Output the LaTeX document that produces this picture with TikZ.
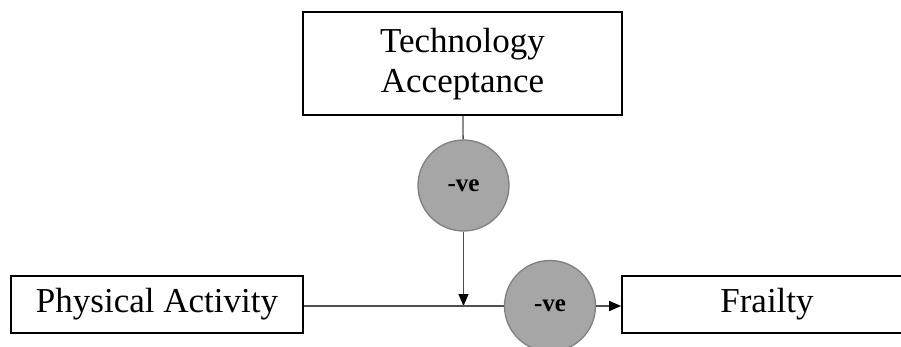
\documentclass[tikz,border=0pt]{standalone}
\usepackage{fontspec}
\setmainfont{Liberation Serif}
\usetikzlibrary{arrows.meta}
\definecolor{modfill}{RGB}{166,166,166}
\definecolor{modline}{RGB}{128,128,128}
\definecolor{linkgray}{RGB}{80,80,80}
\begin{document}
\begin{tikzpicture}[x=1pt, y=1pt, every edge/.style={draw, linkgray, line width=1.3pt}]
      \tikzset{varbox/.style={draw, line width=1.6pt, inner sep=0pt, font=\fontsize{35}{40}\selectfont, align=center},
               modcirc/.style={draw=modline, line width=1.3pt, fill=modfill, circle, inner sep=0pt, minimum size=91pt, font=\fontsize{25}{28}\selectfont\bfseries},
               tip/.style={-{Triangle[length=12pt, width=10pt, color=black]}}}
      \useasboundingbox (0,0) rectangle (901,346);
%% Variables
      	\node[varbox, minimum width=319pt, minimum height=103pt, text depth=6pt] (tech) at (462.5,282.5) {Technology\\Acceptance};
      	\node[varbox, minimum width=292pt, minimum height=57pt] (pa) at (157,41.5) {Physical Activity};
      	\node[varbox, minimum width=290pt, minimum height=57pt] (frail) at (767,41.5) {Frailty};
%% Moderators
      	\node[modcirc] (neg1) at (463.5,160.5) {-ve};
      	\node[modcirc] (neg2) at (550,40) {-ve};
      	\coordinate (join) at (463.5,40);
%Edges
		\path (tech) edge (neg1);
		\path (neg1) edge [tip] (join);
		\path (pa.east |- join) edge (neg2);
		\path (neg2) edge [tip] (frail.west |- neg2);
	\end{tikzpicture}
\end{document}
